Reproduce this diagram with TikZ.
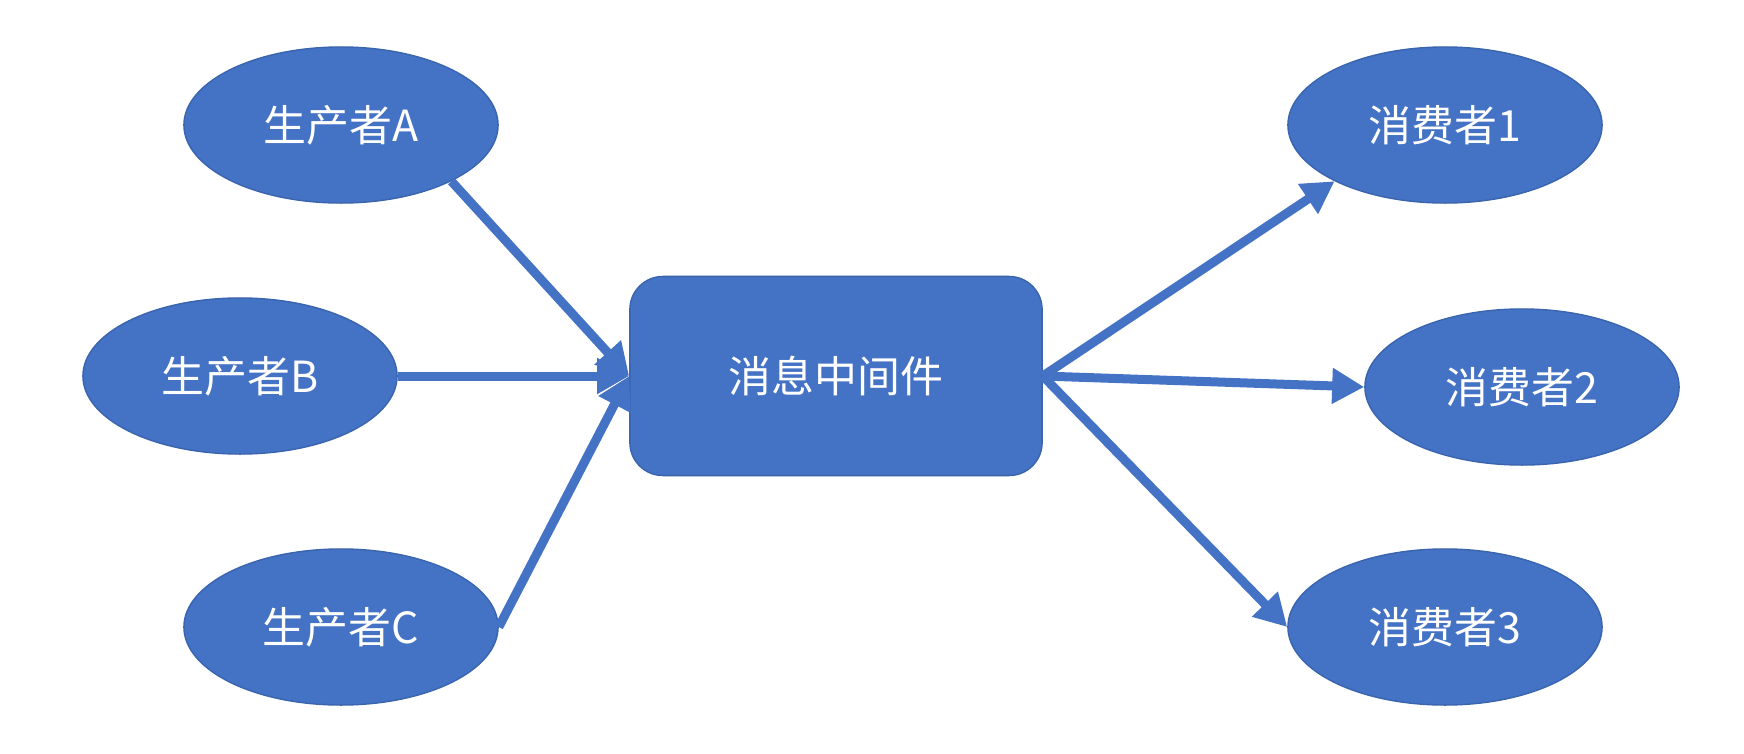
\documentclass[tikz,border=0pt]{standalone}
\usepackage{fontspec}
\newfontfamily\cjk{Noto Sans CJK SC}
\usepackage{tikz}
\usetikzlibrary{shapes.geometric}
\usetikzlibrary{arrows.meta}
\definecolor{officeblue}{HTML}{4472C4}
\definecolor{officeedge}{HTML}{3A64AE}

\tikzset{
	party/.style={ellipse, fill=officeblue, draw=officeedge, line width=0.4pt,
		minimum width=3.14cm, minimum height=1.56cm, inner sep=0pt,
		text=white, font=\cjk\fontsize{12.2}{14}\selectfont},
	broker/.style={rectangle, rounded corners=0.33cm, fill=officeblue, draw=officeedge,
		line width=0.4pt, minimum width=4.12cm, minimum height=1.99cm, inner sep=0pt,
		text=white, font=\cjk\fontsize{12.2}{14}\selectfont},
	flow/.style={officeblue, line width=0.09cm, -{Triangle[length=0.32cm,width=0.34cm]}}
}

\begin{document}
\begin{tikzpicture}[x=0.01cm,y=-0.01cm]
	\useasboundingbox (0,0) rectangle (1744,754);
	%% producers
	\node[party] (prodA) at (341,125) {生产者A};
	\node[party] (prodB) at (240,376) {生产者B};
	\node[party] (prodC) at (341,627) {生产者C};
	%% middleware
	\node[broker] (mq) at (836,376) {消息中间件};
	%% consumers
	\node[party] (consA) at (1445,125) {消费者1};
	\node[party] (consB) at (1522,387) {消费者2};
	\node[party] (consC) at (1445,627) {消费者3};
	%% arrows in
	\draw[flow] (prodA.-27) -- (mq.west);
	\draw[flow] (prodB.east) -- (mq.west);
	\draw[flow] (prodC.east) -- (mq.west);
	%% arrows out
	\draw[flow] (mq.east) -- (consA.-153);
	\draw[flow] (mq.east) -- (consB.west);
	\draw[flow] (mq.east) -- (consC.west);
\end{tikzpicture}
\end{document}
